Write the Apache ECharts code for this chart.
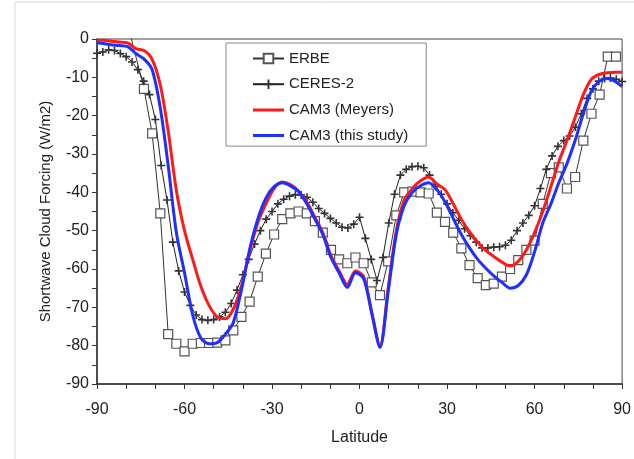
<!DOCTYPE html>
<html>
<head>
<meta charset="utf-8">
<script src="https://cdn.jsdelivr.net/npm/echarts@6/dist/echarts.min.js"></script>
<style>
  html, body { margin: 0; padding: 0; background: #fff; }
  #main { width: 634px; height: 459px; }
</style>
</head>
<body>
<div id="main"></div>
<script>
// latitudes of the model grid (T42), plus the two edges
var camLat = [-90, -87.9, -85.1, -82.3, -79.5, -76.7, -73.9, -71.1, -68.3, -65.6, -62.8, -60.0, -57.2, -54.4, -51.6, -48.8, -46.0, -43.3, -40.5, -37.7, -34.9, -32.1, -29.3, -26.5, -23.7, -20.9, -18.1, -15.3, -12.6, -9.8, -7.0, -4.2, -1.4, 1.4, 4.2, 7.0, 9.8, 12.6, 15.3, 18.1, 20.9, 23.7, 26.5, 29.3, 32.1, 34.9, 37.7, 40.5, 43.3, 46.0, 48.8, 51.6, 54.4, 57.2, 60.0, 62.8, 65.6, 68.3, 71.1, 73.9, 76.7, 79.5, 82.3, 85.1, 87.9, 90];

var meyers = [-0.3, -0.3, -0.6, -0.8, -1, -2.5, -3, -5.3, -12, -24, -39.5, -50, -57.5, -64.5, -69.5, -72.5, -73, -70.5, -64.5, -55.5, -48, -43, -39, -37.3, -38, -39.7, -42.5, -46.5, -50.5, -56.5, -60.5, -64, -60.5, -62, -71.5, -80, -65, -50, -42, -39, -37, -36, -37.8, -39.3, -43, -47, -50.3, -53, -55.2, -56.7, -58.2, -59.2, -58, -55, -50.5, -45, -38.5, -32, -26.5, -20.5, -14.5, -10.5, -9.2, -8.8, -8.7, -8.7];

var thisStudy = [-1, -1.2, -1.5, -1.7, -2, -3.8, -5.2, -8, -18, -33, -50.5, -61, -72, -78, -79.5, -79.2, -77, -74, -65.5, -55, -47, -41.5, -38.5, -37.5, -38.3, -39.8, -43, -47, -51, -57, -61, -64.8, -61, -62.5, -71.5, -80.5, -66, -51, -43.5, -40, -38.3, -37.5, -39.3, -42.5, -46.8, -51, -54.5, -57.5, -59.8, -61.8, -63.5, -65, -64.3, -61.5, -55.5, -48, -43, -37.5, -32.5, -26.5, -19.5, -13.5, -11, -10.3, -11.2, -12.4];

var erbeLat = [-79.5, -73.9, -71.1, -68.3, -65.6, -62.8, -60.0, -57.2, -54.4, -51.6, -48.8, -46.0, -43.3, -40.5, -37.7, -34.9, -32.1, -29.3, -26.5, -23.7, -20.9, -18.1, -15.3, -12.6, -9.8, -7.0, -4.2, -1.4, 1.4, 4.2, 7.0, 9.8, 12.6, 15.3, 18.1, 20.9, 23.7, 26.5, 29.3, 32.1, 34.9, 37.7, 40.5, 43.3, 46.0, 48.8, 51.6, 54.4, 57.2, 60.0, 62.8, 65.6, 68.3, 71.1, 73.9, 76.7, 79.5, 82.3, 85.1, 87.9];
var erbe = [4, -13, -24.6, -45.5, -77, -79.5, -81.5, -79.5, -79.3, -79.3, -79.2, -78.6, -76, -72.5, -68.5, -62, -56, -51, -47, -45.5, -45, -45.5, -47.5, -50.5, -55, -57.5, -58.5, -57, -58.5, -63.5, -66.8, -58, -46, -40, -39.8, -40, -40.3, -45.3, -47.7, -50.5, -54.6, -59, -62.4, -64.2, -63.8, -62, -60, -57.7, -55, -52.6, -43, -35, -33.5, -39, -36, -26.5, -19.5, -14.5, -4.6, -4.6];

var ceresLat = [-90, -88, -86, -84, -82, -80, -78, -76, -74, -72, -70, -68, -66, -64, -62, -60, -58, -56, -54, -52, -50, -48, -46, -44, -42, -40, -38, -36, -34, -32, -30, -28, -26, -24, -22, -20, -18, -16, -14, -12, -10, -8, -6, -4, -2, 0, 2, 4, 6, 8, 10, 12, 14, 16, 18, 20, 22, 24, 26, 28, 30, 32, 34, 36, 38, 40, 42, 44, 46, 48, 50, 52, 54, 56, 58, 60, 62, 64, 66, 68, 70, 72, 74, 76, 78, 80, 82, 84, 86, 88, 90];
var ceres = [-3.7, -3.4, -2.8, -3, -3.8, -4.6, -6, -8, -11, -14.5, -21, -33, -42, -53, -60.5, -66, -69.5, -72, -73.2, -73.4, -73.2, -72.5, -71.3, -69, -65.5, -61.5, -57.5, -53.5, -50, -47, -45, -43, -41.8, -41, -40.6, -40.7, -41.3, -42.6, -44.2, -45.5, -46.8, -48, -49.1, -49.3, -48.3, -46.5, -52, -57.5, -63, -57, -48, -40.5, -35.5, -34, -33.3, -33.2, -33.6, -35.5, -38.5, -40.5, -43, -45.3, -47.3, -49.5, -51.3, -53, -54.5, -54.5, -54.3, -54.2, -53.8, -52.5, -50, -48, -46, -43.5, -39, -34, -30.5, -28, -26.5, -25.3, -23, -19.5, -15.5, -13, -11, -10.3, -10.2, -10.5, -11.1];

function pairs(xs, ys) {
  return xs.map(function (x, i) { return [x, ys[i]]; });
}

var chart = echarts.init(document.getElementById('main'));
var font = 'Liberation Sans, Arial, sans-serif';
// plain line icon for the model curves (thin slivers keep the box height)
var lineIcon = 'path://M0,0H31V0.01H0Z M0,4.5H31V7.5H0Z M0,11.99H31V12H0Z';

chart.setOption({
  backgroundColor: '#fff',
  animation: false,
  textStyle: { fontFamily: font },
  grid: {
    left: 97, right: 5, top: 39, bottom: 75,
    show: true, borderColor: '#444', borderWidth: 1
  },
  legend: {
    orient: 'vertical',
    left: 226, top: 43,
    padding: [8, 18, 3, 26],
    itemWidth: 31, itemHeight: 12, itemGap: 10.7,
    backgroundColor: '#fff',
    borderColor: '#888', borderWidth: 1,
    textStyle: { fontSize: 15, color: '#222', fontFamily: font },
    data: [
      'ERBE',
      'CERES-2',
      { name: 'CAM3 (Meyers)', icon: lineIcon },
      { name: 'CAM3 (this study)', icon: lineIcon }
    ]
  },
  graphic: [
    { type: 'line', shape: { x1: 15, y1: 2, x2: 15, y2: 459 }, style: { stroke: '#d9d9d9', lineWidth: 1 } },
    { type: 'line', shape: { x1: 15, y1: 2, x2: 634, y2: 2 }, style: { stroke: '#d9d9d9', lineWidth: 1 } }
  ],
  xAxis: {
    type: 'value', min: -90, max: 90, interval: 30,
    name: 'Latitude', nameLocation: 'middle', nameGap: 46,
    nameTextStyle: { fontSize: 16, color: '#222' },
    axisLine: { onZero: false, lineStyle: { color: '#333', width: 1.5 } },
    axisTick: { inside: false, length: 5, lineStyle: { color: '#333' } },
    minorTick: { show: true, splitNumber: 3, length: 5, lineStyle: { color: '#333' } },
    splitLine: { show: false },
    axisLabel: { fontSize: 16, color: '#222', margin: 18 }
  },
  yAxis: {
    type: 'value', min: -90, max: 0, interval: 10,
    name: 'Shortwave Cloud Forcing (W/m2)', nameLocation: 'middle', nameGap: 44,
    nameTextStyle: { fontSize: 15, color: '#222' },
    axisLine: { show: true, onZero: false, lineStyle: { color: '#333', width: 1.5 } },
    axisTick: { show: true, inside: false, length: 5, lineStyle: { color: '#333' } },
    minorTick: { show: true, splitNumber: 2, length: 5, lineStyle: { color: '#333' } },
    splitLine: { show: false },
    axisLabel: { fontSize: 16, color: '#222', margin: 8 }
  },
  series: [
    {
      name: 'ERBE', type: 'line', clip: true,
      data: pairs(erbeLat, erbe),
      symbol: 'rect', symbolSize: 9, showAllSymbol: true,
      itemStyle: { color: '#fff', borderColor: '#555', borderWidth: 1.2 },
      lineStyle: { color: '#333', width: 1 },
      z: 2
    },
    {
      name: 'CERES-2', type: 'line', clip: true,
      data: pairs(ceresLat, ceres),
      symbol: 'path://M4,0H6V4H10V6H6V10H4V6H0V4H4Z', symbolSize: 8, showAllSymbol: true,
      itemStyle: { color: '#333' },
      lineStyle: { color: '#222', width: 1 },
      z: 2
    },
    {
      name: 'CAM3 (Meyers)', type: 'line', clip: true,
      data: pairs(camLat, meyers),
      smooth: 0.3, showSymbol: false, symbol: 'none',
      itemStyle: { color: '#ff1a1a' },
      lineStyle: { color: '#ff1a1a', width: 3 },
      z: 3
    },
    {
      name: 'CAM3 (this study)', type: 'line', clip: true,
      data: pairs(camLat, thisStudy),
      smooth: 0.3, showSymbol: false, symbol: 'none',
      itemStyle: { color: '#1f2fff' },
      lineStyle: { color: '#1f2fff', width: 3 },
      z: 4
    }
  ]
});
</script>
</body>
</html>
